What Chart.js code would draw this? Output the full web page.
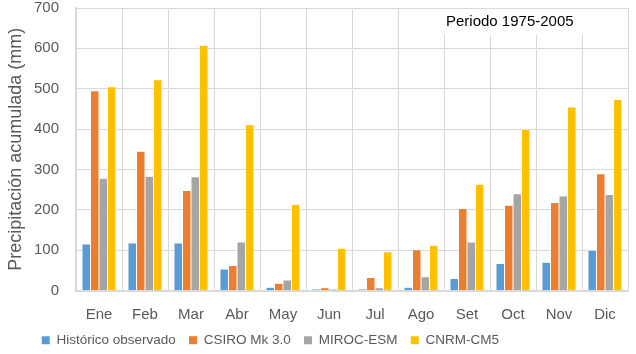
<!DOCTYPE html>
<html>
<head>
<meta charset="utf-8">
<script src="https://cdn.jsdelivr.net/npm/chart.js@4"></script>
<style>
  html, body { margin: 0; padding: 0; background: #fff; overflow: hidden; }
  #wrap { width: 636px; height: 364px; }
</style>
</head>
<body>
<div id="wrap"><canvas id="precipChart"></canvas></div>
<script>
// datos (mm)
const meses = ["Ene", "Feb", "Mar", "Abr", "May", "Jun", "Jul", "Ago", "Set", "Oct", "Nov", "Dic"];
const historico = [115, 118, 118, 53, 8, 4, 4, 8, 30, 67, 70, 100];
const csiro = [495, 345, 248, 62, 18, 7, 32, 101, 203, 211, 218, 289];
const miroc = [278, 283, 282, 120, 26, 4, 7, 34, 120, 240, 234, 238];
const cnrm = [505, 522, 608, 411, 213, 105, 96, 112, 263, 399, 455, 473];
const yTicks = [0, 100, 200, 300, 400, 500, 600, 700];

const fuente = "'Liberation Sans', 'DejaVu Sans', sans-serif";

// caja del título del periodo (tapa la rejilla)
const cajaPeriodo = {
    id: 'cajaPeriodo',
    afterLayout(chart) {
        // subir y correr la leyenda como en el original
        chart.legend.top -= 7;
        chart.legend.bottom -= 7;
        chart.legend.left -= 38;
        chart.legend.right -= 38;
    },
    afterDraw(chart) {
        const c = chart.ctx;
        c.save();
        c.fillStyle = '#ffffff';
        c.fillRect(438, 9, 187, 26);
        c.fillStyle = '#000000';
        c.font = "15px " + fuente;
        c.textBaseline = 'middle';
        c.textAlign = 'left';
        c.fillText('Periodo 1975-2005', 446, 22);
        // texto de fondo recortado
        c.beginPath();
        c.rect(438, 33, 187, 3);
        c.clip();
        c.fillText('Periodo 2035-2065', 440, 44);
        c.restore();
    }
};

function serie(label, data, color) {
    return {
        label: label,
        data: data,
        backgroundColor: color,
        borderColor: '#ffffff',
        borderWidth: { left: 0.5, right: 0.5, top: 0.5, bottom: 0 },
        categoryPercentage: 0.74,
        barPercentage: 1.0
    };
}

Chart.defaults.font.family = fuente;
Chart.defaults.color = '#595959';

new Chart(document.getElementById('precipChart').getContext('2d'), {
    type: 'bar',
    data: {
        labels: meses,
        datasets: [
            serie('Histórico observado', historico, '#5B9BD5'),
            serie('CSIRO Mk 3.0', csiro, '#ED7D31'),
            serie('MIROC-ESM', miroc, '#A5A5A5'),
            serie('CNRM-CM5', cnrm, '#FFC000')
        ]
    },
    options: {
        responsive: true,
        maintainAspectRatio: false,
        animation: false,
        layout: { padding: { left: 0, right: 8, top: 0, bottom: 0 } },
        scales: {
            x: {
                grid: { color: '#d9d9d9', lineWidth: 1, offset: true, drawTicks: false },
                border: { color: '#d9d9d9', width: 2 },
                ticks: { font: { size: 15 }, padding: 15 }
            },
            y: {
                min: 0,
                max: 700,
                afterBuildTicks(scale) { scale.ticks = yTicks.map(v => ({ value: v })); },
                afterFit(scale) {
                    scale.width = 76;
                    scale.paddingTop = 8;
                },
                grid: { color: '#d9d9d9', lineWidth: 1, drawTicks: false },
                border: { color: '#d9d9d9', width: 2 },
                ticks: { font: { size: 15 }, padding: 17 },
                title: {
                    display: true,
                    text: 'Precipitación acumulada (mm)',
                    font: { size: 18 },
                    padding: { top: 5, bottom: 0 }
                }
            }
        },
        plugins: {
            legend: {
                position: 'bottom',
                labels: {
                    boxWidth: 8,
                    boxHeight: 8,
                    padding: 2,
                    font: { size: 13.5, lineHeight: 1 },
                    color: '#595959',
                    generateLabels(chart) {
                        const items = Chart.defaults.plugins.legend.labels.generateLabels(chart);
                        items.forEach(it => { it.lineWidth = 0; it.text = it.text + '   '; });
                        return items;
                    }
                }
            },
            tooltip: { enabled: false }
        }
    },
    plugins: [cajaPeriodo]
});
</script>
</body>
</html>
